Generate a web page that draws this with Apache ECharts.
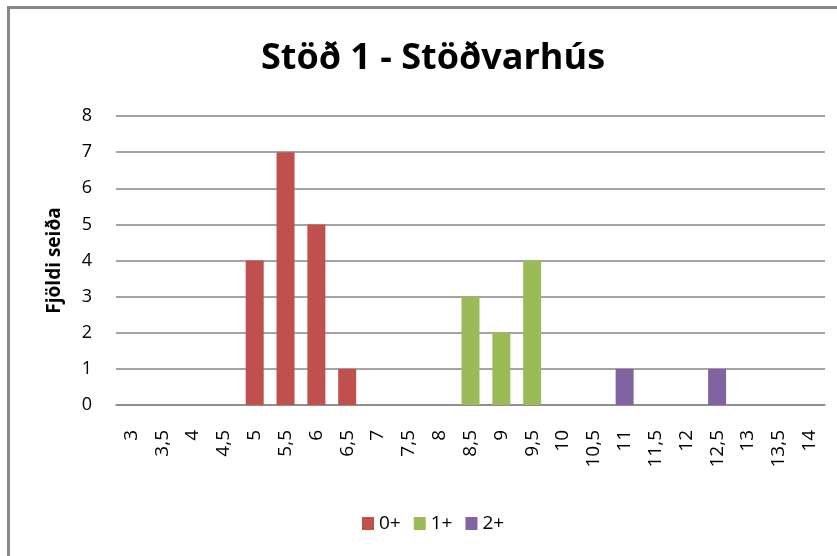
<!DOCTYPE html>
<html>
<head>
<meta charset="utf-8">
<script src="https://cdn.jsdelivr.net/npm/echarts@6/dist/echarts.min.js"></script>
<style>html,body{margin:0;padding:0;background:#fff}#c{width:837px;height:556px}</style>
</head>
<body>
<div id="c"></div>
<script>
var categories = ['3','3,5','4','4,5','5','5,5','6','6,5','7','7,5','8','8,5','9','9,5','10','10,5','11','11,5','12','12,5','13','13,5','14'];
var s0 = ['-','-','-','-',4,7,5,1,'-','-','-','-','-','-','-','-','-','-','-','-','-','-','-'];
var s1 = ['-','-','-','-','-','-','-','-','-','-','-',3,2,4,'-','-','-','-','-','-','-','-','-'];
var s2 = ['-','-','-','-','-','-','-','-','-','-','-','-','-','-','-','-',1,'-','-',1,'-','-','-'];
var yTicks = [0,1,2,3,4,5,6,7,8];

var chart = echarts.init(document.getElementById('c'));
var font = 'Open Sans';
chart.setOption({
  animation: false,
  backgroundColor: '#fff',
  graphic: [{
    type: 'rect', shape: {x: 8.5, y: 7.5, width: 900, height: 700},
    style: {fill: 'none', stroke: '#888', lineWidth: 3}, silent: true
  }],
  title: {
    text: 'Stöð 1 - Stöðvarhús', left: 428, textAlign: 'center', top: 36,
    textStyle: {fontFamily: font, fontWeight: 'bold', fontSize: 36, color: '#000'}
  },
  legend: {
    bottom: 18, left: 357, itemWidth: 12, itemHeight: 13, itemGap: 13,
    icon: 'rect',
    textStyle: {fontFamily: font, fontSize: 19, color: '#000'},
    data: ['0+','1+','2+']
  },
  grid: {left: 116, right: 12, top: 116, bottom: 151, containLabel: false},
  xAxis: {
    type: 'category', data: categories,
    axisLine: {lineStyle: {color: '#868686', width: 1.5}},
    axisTick: {show: false},
    axisLabel: {rotate: 90, margin: 25, fontFamily: font, fontSize: 19, color: '#000', interval: 0}
  },
  yAxis: {
    type: 'value', min: 0, max: 8, interval: 1,
    name: 'Fjöldi seiða', nameLocation: 'middle', nameGap: 52, nameRotate: 90,
    nameTextStyle: {fontFamily: font, fontWeight: 'bold', fontSize: 19, color: '#000'},
    axisLine: {show: false}, axisTick: {show: false},
    axisLabel: {margin: 24, fontFamily: font, fontSize: 18, color: '#000'},
    splitLine: {lineStyle: {color: '#868686', width: 1.5}}
  },
  series: [
    {name: '0+', type: 'bar', stack: 't', data: s0, barWidth: 18, itemStyle: {color: '#C0504D'}},
    {name: '1+', type: 'bar', stack: 't', data: s1, barWidth: 18, itemStyle: {color: '#9BBB59'}},
    {name: '2+', type: 'bar', stack: 't', data: s2, barWidth: 18, itemStyle: {color: '#8064A2'}}
  ]
});
</script>
</body>
</html>
